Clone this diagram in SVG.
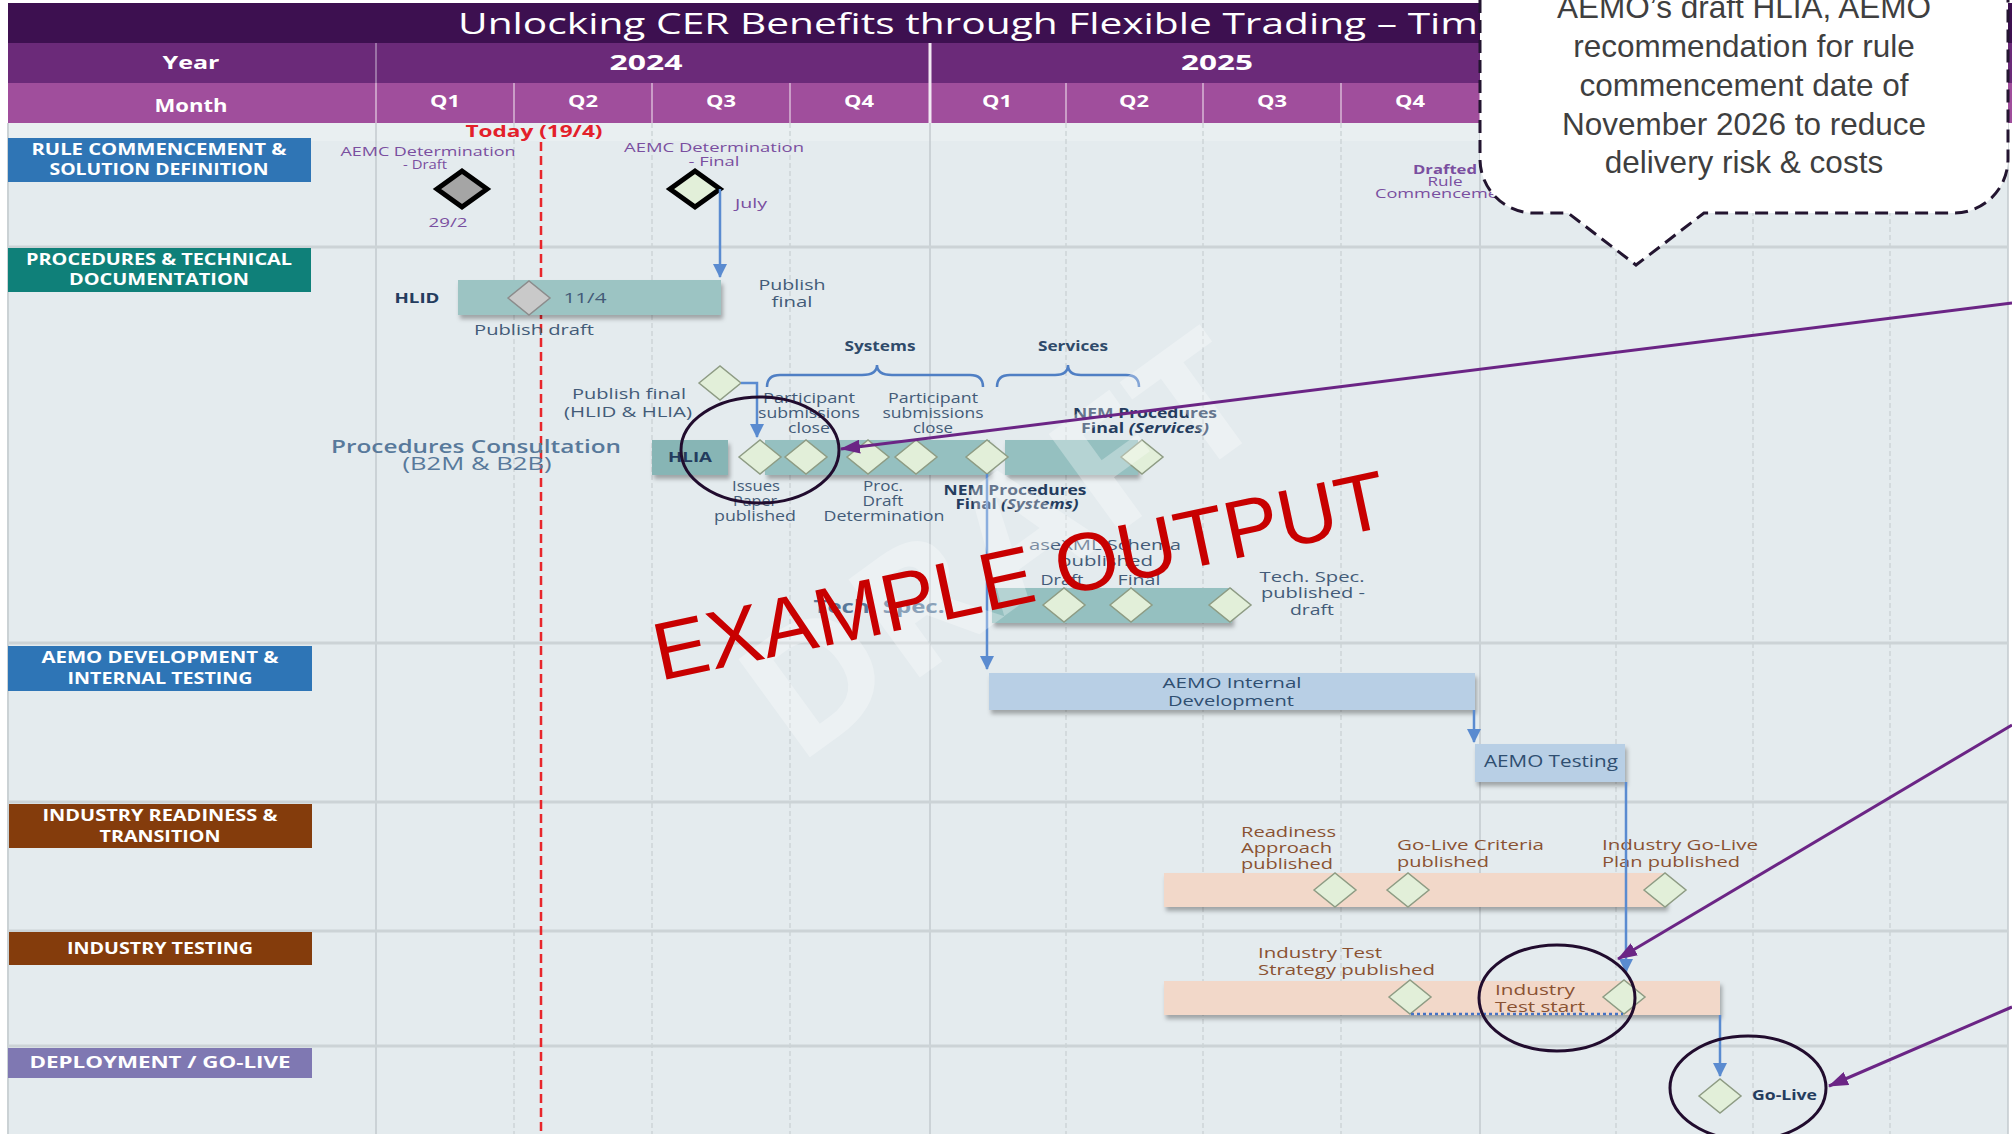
<svg xmlns="http://www.w3.org/2000/svg" xmlns:xlink="http://www.w3.org/1999/xlink" width="2012" height="1134" viewBox="0 0 2012 1134">
<style>
text{font-family:"Open Sans","Noto Sans","DejaVu Sans",sans-serif}
.hdr{font-weight:700;fill:#fff;text-anchor:middle}
.lane{font-weight:700;font-size:16px;fill:#fff;text-anchor:middle}
.pur{font-size:13.5px;fill:#7a4fa0;text-anchor:middle}
.sl{font-size:14.5px;fill:#435b78;text-anchor:middle}
.b{font-weight:700}
.nav{fill:#243c5e}
.big{font-size:18px;font-weight:600;fill:#58799b;text-anchor:middle}
.br{font-size:15px;fill:#8a5232}
.aemo{font-size:15px;fill:#2f4e70;text-anchor:middle}
.dm{fill:#e2efd9;stroke:#8e9c84;stroke-width:1.5}
.teal{fill:#95c0c0}
.peach{fill:#f2d8c9}
.blue{fill:#b8cfe5}
.vsol{stroke:#c3cace;stroke-width:1.5}
.vdash{stroke:#cad1d4;stroke-width:1.3;stroke-dasharray:5 3}
.sep{stroke:#ccd3d6;stroke-width:3}
.conn{stroke:#5a8bd0;stroke-width:2.5;fill:none}
.purp{stroke:#6b2585;stroke-width:3;fill:none}
.ell{fill:none;stroke:#210c2e;stroke-width:3}
.mw{stroke:#d9b9d6;stroke-width:1.5}
.co{font-family:"Liberation Sans",Arial,sans-serif;font-size:31.5px;fill:#3f3f3f;text-anchor:middle}
</style>
<defs>
<filter id="sh" x="-5%" y="-30%" width="112%" height="180%"><feDropShadow dx="2" dy="4" stdDeviation="2" flood-color="#000" flood-opacity="0.3"/></filter>
<path id="d" d="M-21,0 L0,-17 L21,0 L0,17 Z"/>
<path id="D" d="M-25,0 L0,-18 L25,0 L0,18 Z"/>
<marker id="ab" viewBox="0 0 14 14" refX="13" refY="7" markerWidth="14" markerHeight="14" markerUnits="userSpaceOnUse" orient="auto"><path d="M0,0 L14,7 L0,14 Z" fill="#5a8bd0"/></marker>
<marker id="ap" viewBox="0 0 20 14" refX="19" refY="7" markerWidth="20" markerHeight="14" markerUnits="userSpaceOnUse" orient="auto"><path d="M0,0 L20,7 L0,14 Z" fill="#6b2585"/></marker>
</defs>

<rect x="0" y="0" width="2012" height="1134" fill="#fff"/>

<g id="grid">
<rect x="8" y="123" width="2000" height="1011" fill="#e4ebee"/>
<rect x="8" y="123" width="2000" height="18" fill="#e9eff1"/>
<line x1="8" y1="123" x2="8" y2="1134" stroke="#cbd2d5" stroke-width="2"/>
<line class="vsol" x1="376" y1="123" x2="376" y2="1134"/>
<line class="vsol" x1="930" y1="123" x2="930" y2="1134"/>
<line class="vsol" x1="1480" y1="123" x2="1480" y2="1134"/>
<line class="vsol" x1="2008" y1="123" x2="2008" y2="1134"/>
<line class="vdash" x1="514" y1="123" x2="514" y2="1134"/>
<line class="vdash" x1="652" y1="123" x2="652" y2="1134"/>
<line class="vdash" x1="790" y1="123" x2="790" y2="1134"/>
<line class="vdash" x1="1066" y1="123" x2="1066" y2="1134"/>
<line class="vdash" x1="1203" y1="123" x2="1203" y2="1134"/>
<line class="vdash" x1="1341" y1="123" x2="1341" y2="1134"/>
<line class="vdash" x1="1616" y1="123" x2="1616" y2="1134"/>
<line class="vdash" x1="1753" y1="123" x2="1753" y2="1134"/>
<line class="vdash" x1="1890" y1="123" x2="1890" y2="1134"/>
<line class="sep" x1="8" y1="247" x2="2008" y2="247"/>
<line class="sep" x1="8" y1="643" x2="2008" y2="643"/>
<line class="sep" x1="8" y1="802" x2="2008" y2="802"/>
<line class="sep" x1="8" y1="931" x2="2008" y2="931"/>
<line class="sep" x1="8" y1="1046" x2="2008" y2="1046"/>
</g>

<g id="header">
<rect x="8" y="3" width="2004" height="40" fill="#3d1050"/>
<text x="458" y="34" font-size="29.5" fill="#fff" textLength="1020" lengthAdjust="spacingAndGlyphs">Unlocking CER Benefits through Flexible Trading – Tim</text>
<rect x="8" y="43" width="2004" height="40" fill="#6b2a79"/>
<line x1="376" y1="43" x2="376" y2="83" stroke="#9b72a6" stroke-width="2"/>
<line x1="930" y1="43" x2="930" y2="83" stroke="#f2e9f3" stroke-width="3"/>
<rect x="8" y="83" width="2004" height="40" fill="#a04e9c"/>
<line class="mw" x1="376" y1="83" x2="376" y2="123"/>
<line class="mw" x1="514" y1="83" x2="514" y2="123"/>
<line class="mw" x1="652" y1="83" x2="652" y2="123"/>
<line class="mw" x1="790" y1="83" x2="790" y2="123"/>
<line x1="930" y1="83" x2="930" y2="123" stroke="#f2e9f3" stroke-width="3"/>
<line class="mw" x1="1066" y1="83" x2="1066" y2="123"/>
<line class="mw" x1="1203" y1="83" x2="1203" y2="123"/>
<line class="mw" x1="1341" y1="83" x2="1341" y2="123"/>
<line class="mw" x1="1480" y1="83" x2="1480" y2="123"/>
<text class="hdr" x="191" y="69" font-size="18" textLength="57" lengthAdjust="spacingAndGlyphs">Year</text>
<text class="hdr" x="646" y="70" font-size="22" textLength="73" lengthAdjust="spacingAndGlyphs">2024</text>
<text class="hdr" x="1217" y="70" font-size="22" textLength="72" lengthAdjust="spacingAndGlyphs">2025</text>
<text class="hdr" x="191" y="112" font-size="18" textLength="73" lengthAdjust="spacingAndGlyphs">Month</text>
<text class="hdr" x="445" y="107" font-size="16.5" textLength="30" lengthAdjust="spacingAndGlyphs">Q1</text>
<text class="hdr" x="583" y="107" font-size="16.5" textLength="30" lengthAdjust="spacingAndGlyphs">Q2</text>
<text class="hdr" x="721" y="107" font-size="16.5" textLength="30" lengthAdjust="spacingAndGlyphs">Q3</text>
<text class="hdr" x="859" y="107" font-size="16.5" textLength="30" lengthAdjust="spacingAndGlyphs">Q4</text>
<text class="hdr" x="997" y="107" font-size="16.5" textLength="30" lengthAdjust="spacingAndGlyphs">Q1</text>
<text class="hdr" x="1134" y="107" font-size="16.5" textLength="30" lengthAdjust="spacingAndGlyphs">Q2</text>
<text class="hdr" x="1272" y="107" font-size="16.5" textLength="30" lengthAdjust="spacingAndGlyphs">Q3</text>
<text class="hdr" x="1410" y="107" font-size="16.5" textLength="30" lengthAdjust="spacingAndGlyphs">Q4</text>
</g>

<g id="lane-rule">
<rect x="8" y="138" width="303" height="44" fill="#2f75b5"/>
<text class="lane" x="159" y="155" textLength="255" lengthAdjust="spacingAndGlyphs">RULE COMMENCEMENT &amp;</text>
<text class="lane" x="159" y="175" textLength="219" lengthAdjust="spacingAndGlyphs">SOLUTION DEFINITION</text>
</g>
<g id="lane-procedures">
<rect x="8" y="248" width="303" height="44" fill="#0f8079"/>
<text class="lane" x="159" y="265" textLength="266" lengthAdjust="spacingAndGlyphs">PROCEDURES &amp; TECHNICAL</text>
<text class="lane" x="159" y="285" textLength="180" lengthAdjust="spacingAndGlyphs">DOCUMENTATION</text>
</g>
<g id="lane-aemo">
<rect x="8" y="646" width="304" height="45" fill="#2e75b6"/>
<text class="lane" x="160" y="663" textLength="237" lengthAdjust="spacingAndGlyphs">AEMO DEVELOPMENT &amp;</text>
<text class="lane" x="160" y="684" textLength="185" lengthAdjust="spacingAndGlyphs">INTERNAL TESTING</text>
</g>
<g id="lane-readiness">
<rect x="9" y="804" width="303" height="44" fill="#843c0c"/>
<text class="lane" x="160" y="821" textLength="235" lengthAdjust="spacingAndGlyphs">INDUSTRY READINESS &amp;</text>
<text class="lane" x="160" y="842" textLength="121" lengthAdjust="spacingAndGlyphs">TRANSITION</text>
</g>
<g id="lane-testing">
<rect x="9" y="932" width="303" height="33" fill="#843c0c"/>
<text class="lane" x="160" y="954" textLength="186" lengthAdjust="spacingAndGlyphs">INDUSTRY TESTING</text>
</g>
<g id="lane-golive">
<rect x="8" y="1048" width="304" height="30" fill="#7f78b2"/>
<text class="lane" x="160" y="1068" textLength="261" lengthAdjust="spacingAndGlyphs">DEPLOYMENT / GO-LIVE</text>
</g>

<g id="today">
<line x1="541" y1="142" x2="541" y2="1134" stroke="#e8262b" stroke-width="2.5" stroke-dasharray="9 5"/>
<text x="534" y="137" font-size="16" font-weight="700" fill="#e3202a" text-anchor="middle" textLength="137" lengthAdjust="spacingAndGlyphs">Today (19/4)</text>
</g>

<g id="aemc-draft">
<text class="pur" x="428" y="156" textLength="175" lengthAdjust="spacingAndGlyphs">AEMC Determination</text>
<text class="pur" x="425" y="169" textLength="44" lengthAdjust="spacingAndGlyphs">- Draft</text>
<use xlink:href="#D" x="462" y="189" fill="#a5a5a5" stroke="#000" stroke-width="5"/>
<text class="pur" x="448" y="227" textLength="39" lengthAdjust="spacingAndGlyphs">29/2</text>
</g>
<g id="aemc-final">
<text class="pur" x="714" y="152" textLength="180" lengthAdjust="spacingAndGlyphs">AEMC Determination</text>
<text class="pur" x="714" y="166" textLength="51" lengthAdjust="spacingAndGlyphs">- Final</text>
<use xlink:href="#D" x="695" y="189" fill="#e2efd9" stroke="#000" stroke-width="5"/>
<text class="pur" x="751" y="208" textLength="32" lengthAdjust="spacingAndGlyphs">July</text>
</g>
<g id="drafted-rule">
<text class="pur b" x="1445" y="174" font-size="12.5" style="font-size:12.5px" textLength="64" lengthAdjust="spacingAndGlyphs">Drafted</text>
<text class="pur" x="1445" y="186" style="font-size:12.5px" textLength="35" lengthAdjust="spacingAndGlyphs">Rule</text>
<text class="pur" x="1375" y="198" style="font-size:12.5px;text-anchor:start" textLength="123" lengthAdjust="spacingAndGlyphs">Commenceme</text>
</g>

<g id="hlid">
<text class="sl b nav" x="417" y="303" textLength="45" lengthAdjust="spacingAndGlyphs">HLID</text>
<rect x="458" y="280" width="263" height="35" fill="#9cc4c3" filter="url(#sh)"/>
<use xlink:href="#d" x="529" y="298" fill="#c9c9c9" stroke="#8c8c8c" stroke-width="1.5"/>
<text class="sl" x="585" y="303" textLength="43" lengthAdjust="spacingAndGlyphs">11/4</text>
<text class="sl" x="534" y="335" textLength="120" lengthAdjust="spacingAndGlyphs">Publish draft</text>
<text class="sl" x="792" y="290" textLength="67" lengthAdjust="spacingAndGlyphs">Publish</text>
<text class="sl" x="792" y="307" textLength="41" lengthAdjust="spacingAndGlyphs">final</text>
</g>

<g id="braces">
<path d="M767,387 Q767,375 780,375 L862,375 Q877,375 877,365 Q877,375 892,375 L970,375 Q983,375 983,387" fill="none" stroke="#4f7fc4" stroke-width="2.5"/>
<path d="M997,387 Q997,375 1010,375 L1055,375 Q1068,375 1068,365 Q1068,375 1081,375 L1126,375 Q1139,375 1139,387" fill="none" stroke="#4f7fc4" stroke-width="2.5"/>
<text class="sl b" x="880" y="351" style="fill:#2f4a6a" textLength="71" lengthAdjust="spacingAndGlyphs">Systems</text>
<text class="sl b" x="1073" y="351" style="fill:#2f4a6a" textLength="70" lengthAdjust="spacingAndGlyphs">Services</text>
</g>

<g id="hlia">
<text class="big" x="476" y="453" textLength="290" lengthAdjust="spacingAndGlyphs">Procedures Consultation</text>
<text class="big" x="477" y="470" style="font-weight:400" textLength="149" lengthAdjust="spacingAndGlyphs">(B2M &amp; B2B)</text>
<rect x="652" y="440" width="76" height="35" fill="#87b5b5" filter="url(#sh)"/>
<text class="sl b nav" x="690" y="462" textLength="44" lengthAdjust="spacingAndGlyphs">HLIA</text>
<rect class="teal" x="765" y="440" width="225" height="35" filter="url(#sh)"/>
<rect class="teal" x="1005" y="440" width="133" height="35" filter="url(#sh)"/>
<use class="dm" xlink:href="#d" x="720" y="383"/>
<text class="sl" x="629" y="399" textLength="114" lengthAdjust="spacingAndGlyphs">Publish final</text>
<text class="sl" x="628" y="417" textLength="128" lengthAdjust="spacingAndGlyphs">(HLID &amp; HLIA)</text>
<text class="sl" x="809" y="403" textLength="92" lengthAdjust="spacingAndGlyphs">Participant</text>
<text class="sl" x="809" y="418" textLength="102" lengthAdjust="spacingAndGlyphs">submissions</text>
<text class="sl" x="809" y="433" textLength="42" lengthAdjust="spacingAndGlyphs">close</text>
<text class="sl" x="933" y="403" textLength="90" lengthAdjust="spacingAndGlyphs">Participant</text>
<text class="sl" x="933" y="418" textLength="101" lengthAdjust="spacingAndGlyphs">submissions</text>
<text class="sl" x="933" y="433" textLength="40" lengthAdjust="spacingAndGlyphs">close</text>
<text class="sl b nav" x="1145" y="418" style="font-size:14px" textLength="144" lengthAdjust="spacingAndGlyphs">NEM Procedures</text>
<text class="sl b nav" x="1145" y="433" style="font-size:14px" textLength="128" lengthAdjust="spacingAndGlyphs">Final <tspan font-style="italic">(Services)</tspan></text>
<use class="dm" xlink:href="#d" x="760" y="457"/>
<use class="dm" xlink:href="#d" x="806" y="457"/>
<use class="dm" xlink:href="#d" x="868" y="457"/>
<use class="dm" xlink:href="#d" x="916" y="457"/>
<use class="dm" xlink:href="#d" x="987" y="457"/>
<use class="dm" xlink:href="#d" x="1142" y="457"/>
<text class="sl" x="756" y="491" textLength="48" lengthAdjust="spacingAndGlyphs">Issues</text>
<text class="sl" x="755" y="506" textLength="44" lengthAdjust="spacingAndGlyphs">Paper</text>
<text class="sl" x="755" y="521" textLength="82" lengthAdjust="spacingAndGlyphs">published</text>
<text class="sl" x="883" y="491" textLength="40" lengthAdjust="spacingAndGlyphs">Proc.</text>
<text class="sl" x="883" y="506" textLength="41" lengthAdjust="spacingAndGlyphs">Draft</text>
<text class="sl" x="884" y="521" textLength="121" lengthAdjust="spacingAndGlyphs">Determination</text>
<text class="sl b nav" x="1015" y="495" style="font-size:14px" textLength="143" lengthAdjust="spacingAndGlyphs">NEM Procedures</text>
<text class="sl b nav" x="1017" y="509" style="font-size:14px" textLength="123" lengthAdjust="spacingAndGlyphs">Final <tspan font-style="italic">(Systems)</tspan></text>
</g>

<g id="techspec">
<text class="big" x="879" y="613" style="font-weight:700" textLength="131" lengthAdjust="spacingAndGlyphs">Tech. Spec.</text>
<rect class="teal" x="992" y="588" width="240" height="35" filter="url(#sh)"/>
<text class="sl" x="1105" y="550" textLength="152" lengthAdjust="spacingAndGlyphs">aseXML Schema</text>
<text class="sl" x="1106" y="566" textLength="94" lengthAdjust="spacingAndGlyphs">published</text>
<text class="sl" x="1062" y="585" textLength="43" lengthAdjust="spacingAndGlyphs">Draft</text>
<text class="sl" x="1139" y="585" textLength="43" lengthAdjust="spacingAndGlyphs">Final</text>
<use class="dm" xlink:href="#d" x="1064" y="605"/>
<use class="dm" xlink:href="#d" x="1131" y="605"/>
<use class="dm" xlink:href="#d" x="1230" y="605"/>
<text class="sl" x="1312" y="582" textLength="105" lengthAdjust="spacingAndGlyphs">Tech. Spec.</text>
<text class="sl" x="1313" y="598" textLength="104" lengthAdjust="spacingAndGlyphs">published -</text>
<text class="sl" x="1312" y="615" textLength="44" lengthAdjust="spacingAndGlyphs">draft</text>
</g>

<g id="aemo-dev">
<rect class="blue" x="989" y="673" width="486" height="37" filter="url(#sh)"/>
<text class="aemo" x="1232" y="688" textLength="139" lengthAdjust="spacingAndGlyphs">AEMO Internal</text>
<text class="aemo" x="1231" y="706" textLength="126" lengthAdjust="spacingAndGlyphs">Development</text>
</g>
<g id="aemo-testing">
<rect class="blue" x="1475" y="744" width="150" height="38" filter="url(#sh)"/>
<text class="aemo" x="1551" y="767" style="font-size:15.5px" textLength="134" lengthAdjust="spacingAndGlyphs">AEMO Testing</text>
</g>

<g id="readiness">
<rect class="peach" x="1164" y="873" width="502" height="34" filter="url(#sh)"/>
<text class="br" x="1241" y="837" textLength="95" lengthAdjust="spacingAndGlyphs">Readiness</text>
<text class="br" x="1241" y="853" textLength="91" lengthAdjust="spacingAndGlyphs">Approach</text>
<text class="br" x="1241" y="869" textLength="92" lengthAdjust="spacingAndGlyphs">published</text>
<text class="br" x="1397" y="850" textLength="147" lengthAdjust="spacingAndGlyphs">Go-Live Criteria</text>
<text class="br" x="1397" y="867" textLength="92" lengthAdjust="spacingAndGlyphs">published</text>
<text class="br" x="1602" y="850" textLength="156" lengthAdjust="spacingAndGlyphs">Industry Go-Live</text>
<text class="br" x="1602" y="867" textLength="138" lengthAdjust="spacingAndGlyphs">Plan published</text>
<use class="dm" xlink:href="#d" x="1335" y="890"/>
<use class="dm" xlink:href="#d" x="1408" y="890"/>
<use class="dm" xlink:href="#d" x="1665" y="890"/>
</g>

<g id="industry-testing">
<rect class="peach" x="1164" y="981" width="556" height="34" filter="url(#sh)"/>
<text class="br" x="1258" y="958" textLength="124" lengthAdjust="spacingAndGlyphs">Industry Test</text>
<text class="br" x="1258" y="975" textLength="177" lengthAdjust="spacingAndGlyphs">Strategy published</text>
<text class="br" x="1495" y="995" textLength="80" lengthAdjust="spacingAndGlyphs">Industry</text>
<text class="br" x="1495" y="1012" textLength="90" lengthAdjust="spacingAndGlyphs">Test start</text>
<use class="dm" xlink:href="#d" x="1410" y="997"/>
<use class="dm" xlink:href="#d" x="1624" y="997"/>
</g>

<g id="golive">
<use class="dm" xlink:href="#d" x="1720" y="1096"/>
<text class="sl b nav" x="1752" y="1100" style="font-size:14px;text-anchor:start" textLength="65" lengthAdjust="spacingAndGlyphs">Go-Live</text>
</g>

<g id="connectors">
<path class="conn" d="M720,189 L720,277" marker-end="url(#ab)"/>
<path class="conn" d="M741,383 L757,383 L757,437" marker-end="url(#ab)"/>
<path class="conn" d="M987,474 L987,669" marker-end="url(#ab)"/>
<path class="conn" d="M1474,710 L1474,742" marker-end="url(#ab)"/>
<path class="conn" d="M1626,782 L1626,972" marker-end="url(#ab)"/>
<path class="conn" d="M1720,1015 L1720,1076" marker-end="url(#ab)"/>
<path d="M1411,1014 L1623,1014" fill="none" stroke="#4472c4" stroke-width="2.5" stroke-dasharray="3 3"/>
</g>

<g id="watermark">
<text x="0" y="60" transform="translate(1000,545) rotate(-36)" font-size="170" font-weight="700" fill="#fff" fill-opacity="0.3" text-anchor="middle" textLength="590" lengthAdjust="spacingAndGlyphs">DRAFT</text>
</g>

<g id="highlights">
<ellipse class="ell" cx="760" cy="450" rx="79" ry="53"/>
<ellipse class="ell" cx="1557" cy="998" rx="78" ry="53"/>
<ellipse class="ell" cx="1748" cy="1088" rx="78" ry="52"/>
</g>

<g id="example">
<text x="0" y="0" transform="translate(660,681) rotate(-12)" style="font-family:'Liberation Sans',Arial,sans-serif;font-size:82px" fill="#c80000">EXAMPLE OUTPUT</text>
</g>

<g id="purple-arrows">
<path class="purp" d="M2012,303 L841,449" marker-end="url(#ap)"/>
<path class="purp" d="M2012,725 L1618,959" marker-end="url(#ap)"/>
<path class="purp" d="M2012,1007 L1829,1086" marker-end="url(#ap)"/>
</g>

<g id="callout">
<path d="M1480,-60 L1480,159 A54,54 0 0 0 1534,213 L1568,213 L1636,265 L1704,213 L1954,213 A54,54 0 0 0 2008,159 L2008,-60 Z" fill="#fff" stroke="#231530" stroke-width="3" stroke-dasharray="13 7"/>
<text class="co" x="1744" y="18">AEMO’s draft HLIA, AEMO</text>
<text class="co" x="1744" y="57">recommendation for rule</text>
<text class="co" x="1744" y="96">commencement date of</text>
<text class="co" x="1744" y="135">November 2026 to reduce</text>
<text class="co" x="1744" y="173">delivery risk &amp; costs</text>
</g>
</svg>
